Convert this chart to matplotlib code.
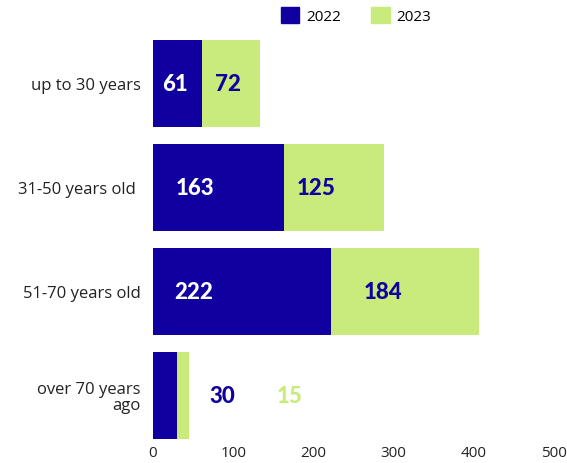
import matplotlib

matplotlib.use("Agg")
import matplotlib.pyplot as plt
from matplotlib.patches import Patch

plt.rcParams["font.family"] = ["Open Sans", "DejaVu Sans"]

categories = ["up to 30 years", "31-50 years old ", "51-70 years old", "over 70 years\nago"]
values_2022 = [61, 163, 222, 30]
values_2023 = [72, 125, 184, 15]
series_names = ["2022", "2023"]

# where the value labels sit (data units along x)
label_x_2022 = [27, 53, 51, 86]
label_x_2023 = [94, 203, 287, 171]

DARK = "#10009f"
GREEN = "#c8eb7b"

fig = plt.figure(figsize=(5.67, 4.64), dpi=100)
ax = fig.add_axes([153 / 567, 1 - 443.3 / 464, 401 / 567, 405.6 / 464])

ypos = list(range(len(categories)))
ax.barh(ypos, values_2022, height=0.845, color=DARK)
ax.barh(ypos, values_2023, left=values_2022, height=0.845, color=GREEN)

for i in ypos:
    inside = values_2022[i] > 40
    ax.text(label_x_2022[i], i, str(values_2022[i]), ha="center", va="center",
            color="white" if inside else DARK, fontsize=16, fontweight=900,
            family=["Lato", "DejaVu Sans"])
    ax.text(label_x_2023[i], i, str(values_2023[i]), ha="center", va="center",
            color=DARK if inside else GREEN, fontsize=16, fontweight=900,
            family=["Lato", "DejaVu Sans"])

ax.set_xlim(0, 500)
ax.set_ylim(3.45, -0.45)
ax.set_xticks([0, 100, 200, 300, 400, 500])
ax.set_yticks(ypos)
ax.set_yticklabels(categories, fontsize=12, color="#222222", linespacing=0.95)
ax.tick_params(axis="x", length=0, labelsize=11, colors="#222222")
ax.tick_params(axis="y", length=0, colors="#222222", pad=9)
ax.tick_params(axis="x", pad=2)
for s in ax.spines.values():
    s.set_visible(False)

handles = [Patch(color=DARK), Patch(color=GREEN)]
fig.legend(handles, series_names, loc="upper center", bbox_to_anchor=(0.628, 1.012),
           ncol=2, frameon=False, fontsize=11, handlelength=1.2, handleheight=1.2,
           columnspacing=2.0, handletextpad=0.45)

fig.savefig("out.png", dpi=100)
